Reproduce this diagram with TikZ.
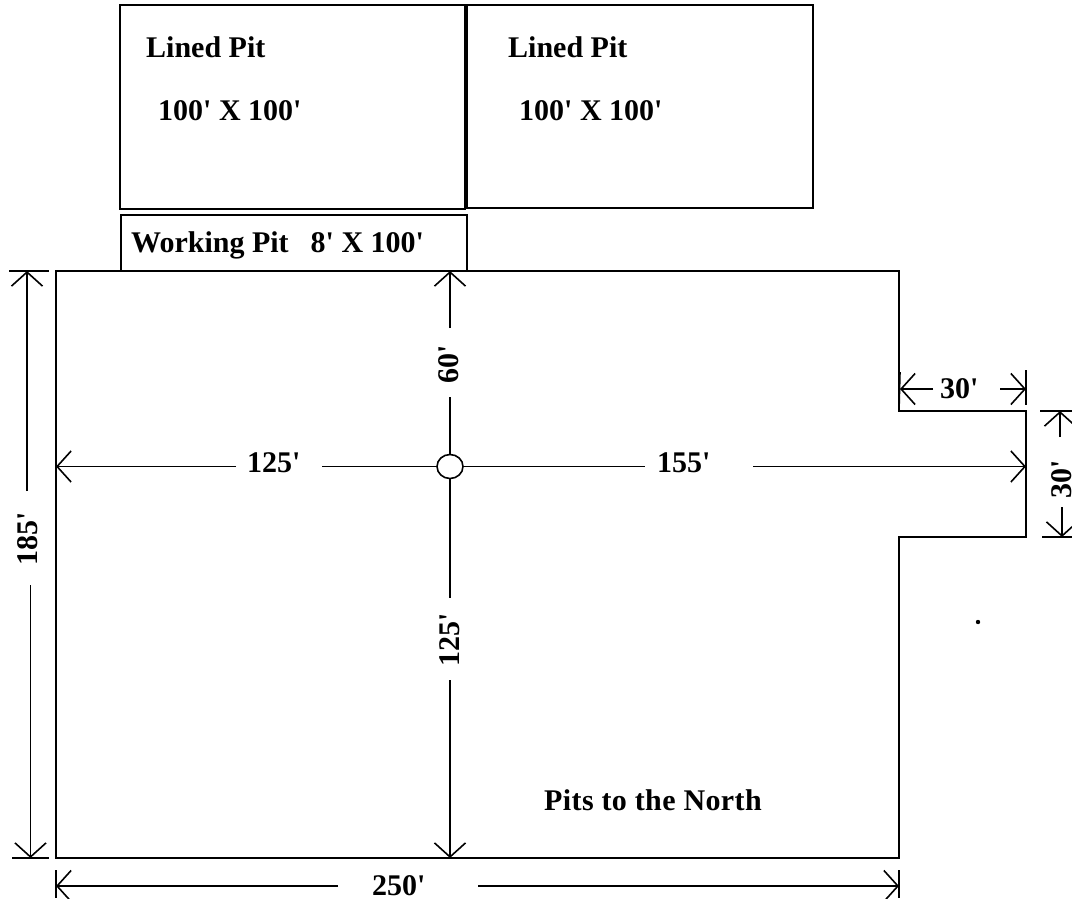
\documentclass[tikz,border=0pt]{standalone}
\usepackage{fontspec}
\setmainfont{Liberation Serif}[Ligatures=TeXOff]
\usetikzlibrary{arrows.meta,shapes.geometric}
\tikzset{
  outline/.style={line width=1.9pt,line join=miter},
  pitbox/.style={draw,line width=1.4pt,anchor=north west,inner sep=0pt,outer sep=0pt},
  label/.style={font=\fontsize{30}{32}\selectfont\bfseries,inner sep=0pt,anchor=base west},
  rlabel/.style={font=\fontsize{30}{32}\selectfont\bfseries,inner sep=0pt,anchor=base,rotate=90},
  dim/.style={line width=1.6pt},
  dimend/.style={dim,-{Straight Barb[length=14pt,width=31pt,line width=1.6pt]}},
  tick/.style={line width=1.6pt},
  wellmark/.style={draw,ellipse,line width=1.6pt,minimum width=26pt,minimum height=24pt,inner sep=0pt,fill=white},
}
\begin{document}
\begin{tikzpicture}[x=1pt,y=-1pt]
\useasboundingbox (0,0) rectangle (1072,898);
% pits
\node[pitbox,minimum width=345pt,minimum height=204pt] (pit1) at (120,5) {};
\node[pitbox,minimum width=346pt,minimum height=203pt] (pit2) at (467,5) {};
\node[pitbox,minimum width=346pt,minimum height=56pt] (work) at (121,215) {};
\node[label] (t1a) at (146,57) {Lined Pit};
\node[label] (t1b) at (158,120) {100' X 100'};
\node[label] (t2a) at (508,57) {Lined Pit};
\node[label] (t2b) at (519,120) {100' X 100'};
\node[label] (t3) at (131,252) {Working Pit\hspace{22pt}8' X 100'};
\node[label] (t4) at (544,810) {\addfontfeature{LetterSpace=1.3}Pits to the North};
% site outline
\draw[outline] (56,271) coordinate (nw) -- (899,271) coordinate (ne) -- (899,411) coordinate (e1)
  -- (1026,411) coordinate (e2) -- (1026,537) coordinate (e3) -- (899,537) coordinate (e4)
  -- (899,858) coordinate (se) -- (56,858) coordinate (sw) -- cycle;
% well
\node[wellmark] (well) at (450,466.5) {};
\coordinate (wW) at (56,466.5);
\coordinate (wE) at (1026,466.5);
\coordinate (wN) at (450,271);
\coordinate (wS) at (450,858);
% labels
\node[label] (l125h) at (247,472) {125'};
\node[label] (l155) at (657,472) {155'};
\node[rlabel] (l60) at (458,364) {60'};
\node[rlabel] (l125v) at (459,640) {125'};
\node[rlabel] (l185) at (37,539) {185'};
\node[label] (l250) at (372,895) {250'};
\node[label] (l30t) at (940,398) {30'};
\node[rlabel] (l30r) at (1071,479) {30'};
% centre dimensions
\coordinate (g125a) at (236,466.5); \coordinate (g125b) at (322,466.5);
\coordinate (g155a) at (645,466.5); \coordinate (g155b) at (753,466.5);
\coordinate (g60a) at (450,328); \coordinate (g60b) at (450,397);
\coordinate (g125c) at (450,598); \coordinate (g125d) at (450,680);
\draw[dimend] (g125a) -- (wW);
\draw[dim] (g125b) -- (well.west);
\draw[dim] (well.east) -- (g155a);
\draw[dimend] (g155b) -- (wE);
\draw[dimend] (g60a) -- (wN);
\draw[dim] (g60b) -- (well.north);
\draw[dim] (well.south) -- (g125c);
\draw[dimend] (g125d) -- (wS);
% 185'
\coordinate (a185t) at (27,271); \coordinate (g185t) at (27,491);
\coordinate (a185b) at (30.5,858); \coordinate (g185b) at (30.5,585);
\coordinate (t185t1) at (9,271); \coordinate (t185t2) at (49,271);
\coordinate (t185b1) at (12,858); \coordinate (t185b2) at (49,858);
\draw[tick] (t185t1) -- (t185t2);
\draw[tick] (t185b1) -- (t185b2);
\draw[dimend] (g185t) -- (a185t);
\draw[dimend] (g185b) -- (a185b);
% 250'
\coordinate (a250l) at (56,886); \coordinate (g250l) at (338,886);
\coordinate (a250r) at (899,886); \coordinate (g250r) at (478,886);
\coordinate (t250l1) at (56,870); \coordinate (t250l2) at (56,898);
\coordinate (t250r1) at (899,870); \coordinate (t250r2) at (899,898);
\draw[tick] (t250l1) -- (t250l2);
\draw[tick] (t250r1) -- (t250r2);
\draw[dimend] (g250l) -- (a250l);
\draw[dimend] (g250r) -- (a250r);
% 30' top
\coordinate (a30l) at (900,389); \coordinate (g30l) at (933,389);
\coordinate (a30r) at (1026,389); \coordinate (g30r) at (1000,389);
\coordinate (t30l) at (900,372); \coordinate (t30r1) at (1026,370); \coordinate (t30r2) at (1026,405);
\draw[tick] (t30l) -- (e1);
\draw[tick] (t30r1) -- (t30r2);
\draw[dimend] (g30l) -- (a30l);
\draw[dimend] (g30r) -- (a30r);
% 30' right
\coordinate (a30t) at (1060,411); \coordinate (g30t) at (1060,437);
\coordinate (a30b) at (1062,537); \coordinate (g30b) at (1062,507);
\coordinate (t30t1) at (1040,411); \coordinate (t30t2) at (1072,411);
\coordinate (t30b1) at (1042,537); \coordinate (t30b2) at (1072,537);
\draw[tick] (t30t1) -- (t30t2);
\draw[tick] (t30b1) -- (t30b2);
\draw[dimend] (g30t) -- (a30t);
\draw[dimend] (g30b) -- (a30b);
% speck
\fill (978,622) circle (2.2pt);
\end{tikzpicture}
\end{document}
